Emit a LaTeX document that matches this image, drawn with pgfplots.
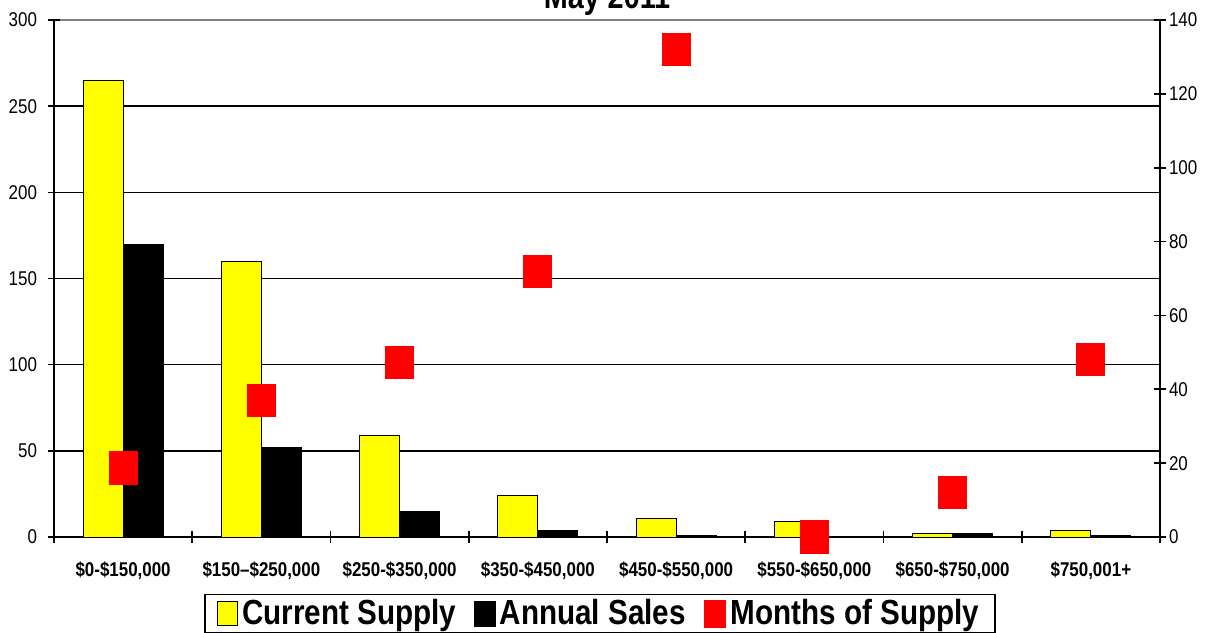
\documentclass[border=0pt]{standalone}
\usepackage{fontspec}
\setmainfont{Liberation Sans}[FakeStretch=0.85]
\usepackage{pgfplots}
\pgfplotsset{compat=1.18}
\definecolor{cyel}{RGB}{255,255,0}
\definecolor{cred}{RGB}{255,0,0}
\begin{document}
\begin{tikzpicture}
\begin{axis}[
 name=ax,
 at={(0,0)}, anchor=south west,
 scale only axis, width=553bp, height=258.5bp,
 xmin=-0.5, xmax=7.5, ymin=0, ymax=300,
 ybar=0pt, bar width=20bp,
 axis x line*=bottom, axis y line*=left,
 axis line style={black, line width=1bp, -},
 x tick label as interval,
 xtick={-0.5,0.5,...,7.5},
 xticklabels={{\$0-\$150,000},{\$150--\$250,000},{\$250-\$350,000},{\$350-\$450,000},{\$450-\$550,000},{\$550-\$650,000},{\$650-\$750,000},{\$750,001+}},
 ytick={0,50,...,250},
 extra y ticks={300},
 extra y tick style={major grid style={gray, line width=1.2bp}},
 ymajorgrids,
 major grid style={black, line width=0.7bp},
 tick align=center, major tick length=6bp,
 tick style={black, line width=0.8bp},
 ticklabel style={font=\fontsize{10}{12}\selectfont},
 yticklabel style={xshift=-2bp},
 xticklabel style={font=\bfseries\fontsize{10}{12}\selectfont, yshift=-6bp},
 /pgf/number format/assume math mode=true,
]
\addplot[fill=cyel, draw=black, line width=0.5bp] coordinates {(0,265) (1,160) (2,59) (3,24) (4,11) (5,9) (6,2) (7,4)};
\addplot[fill=black, draw=black, line width=0.5bp] coordinates {(0,170) (1,52) (2,15) (3,4) (4,1) (5,0) (6,2) (7,1)};
\end{axis}
\begin{axis}[
 at={(0,0)}, anchor=south west,
 scale only axis, width=553bp, height=258.5bp,
 xmin=-0.5, xmax=7.5, ymin=0, ymax=140,
 axis x line=none, axis y line*=right,
 axis line style={black, line width=1bp, -},
 ytick={0,20,...,140},
 tick align=center, major tick length=6bp,
 tick style={black, line width=0.8bp},
 ticklabel style={font=\fontsize{10}{12}\selectfont},
 yticklabel style={xshift=-2bp},
 /pgf/number format/assume math mode=true,
 clip=false,
 legend style={at={(0.5,-0.11)}, xshift=-3.5bp, anchor=north, legend columns=-1, draw=black, line width=0.8bp,
   font=\bfseries\fontsize{17.5}{20}\selectfont, inner xsep=6bp, inner ysep=0.5bp,
   /tikz/every even column/.append style={column sep=7bp}},
]
\addlegendimage{legend image code/.code={\draw[fill=cyel, draw=black, line width=0.6bp] (0bp,-6bp) rectangle (10bp,6bp);}}
\addlegendentry{Current Supply}
\addlegendimage{legend image code/.code={\fill[black] (0bp,-6bp) rectangle (10bp,6bp);}}
\addlegendentry{Annual Sales}
\addplot[color=cred, only marks, mark=square*, mark size=7bp, mark options={fill=cred, draw=cred, line width=0pt, yscale=1.15},
  legend image code/.code={\fill[cred] (0bp,-6.5bp) rectangle (10.5bp,6.5bp);}]
 coordinates {(0,18.7) (1,36.9) (2,47.2) (3,72) (4,132) (5,0) (6,12) (7,48)};
\addlegendentry{Months of Supply}
\end{axis}
\node[font=\bfseries\fontsize{17}{20}\selectfont, anchor=base] at ([yshift=6bp]ax.north) {May 2011};
\pgfresetboundingbox
\useasboundingbox ([shift={(-27bp,-47.5bp)}]ax.south west) rectangle ([shift={(30bp,10bp)}]ax.north east);
\end{tikzpicture}
\end{document}
